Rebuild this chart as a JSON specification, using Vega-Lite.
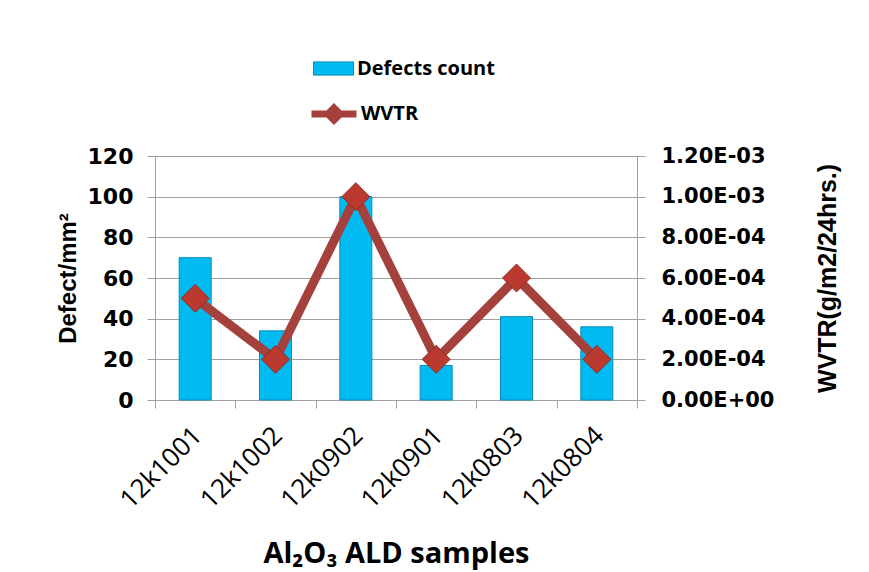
{
  "$schema": "https://vega.github.io/schema/vega-lite/v6.json",
  "width": 482,
  "height": 244,
  "autosize": {"type": "none"},
  "padding": {"left": 155, "top": 156, "right": 232, "bottom": 172},
  "background": "white",
  "config": {"view": {"stroke": null}},
  "data": {"values": [
    {"sample": "12k1001", "defects": 70, "wvtr": 0.0005},
    {"sample": "12k1002", "defects": 34, "wvtr": 0.0002},
    {"sample": "12k0902", "defects": 100, "wvtr": 0.001},
    {"sample": "12k0901", "defects": 17, "wvtr": 0.0002},
    {"sample": "12k0803", "defects": 41, "wvtr": 0.0006},
    {"sample": "12k0804", "defects": 36, "wvtr": 0.0002}
  ]},
  "encoding": {
    "x": {
      "field": "sample", "type": "nominal", "sort": null,
      "scale": {"paddingInner": 0, "paddingOuter": 0},
      "axis": {
        "title": "Al₂O₃ ALD samples",
        "titleFont": "Open Sans", "titleFontWeight": "bold", "titleFontSize": 29, "titleColor": "black",
        "titleBaseline": "alphabetic", "titleY": 162,
        "labelAngle": -45, "labelFont": "Open Sans", "labelFontSize": 26, "labelColor": "black",
        "labelPadding": 14, "labelOffset": -7,
        "tickBand": "extent", "tickSize": 8, "tickColor": "#A0A0A0", "domainColor": "#A0A0A0"
      }
    }
  },
  "layer": [
    {
      "mark": {"type": "bar", "width": 32, "stroke": "#0A8DB8", "strokeWidth": 1},
      "encoding": {
        "y": {
          "field": "defects", "type": "quantitative",
          "scale": {"domain": [0, 120]},
          "axis": {
            "title": "Defect/mm²", "values": [0, 20, 40, 60, 80, 100, 120],
            "titleFont": "Liberation Sans", "titleFontWeight": "bold", "titleFontSize": 24, "titleColor": "black",
            "titleX": -75, "titleBaseline": "bottom",
            "labelFont": "DejaVu Sans", "labelFontWeight": "bold", "labelFontSize": 22, "labelColor": "black",
            "labelPadding": 14, "tickSize": 8, "tickColor": "#A0A0A0", "domainColor": "#A0A0A0",
            "grid": true, "gridColor": "#A0A0A0"
          }
        },
        "fill": {
          "datum": "Defects count",
          "scale": {"range": ["#00BAF2"]},
          "legend": {
            "title": null, "orient": "none", "legendX": 158, "legendY": -108,
            "symbolType": "M-1,-0.33H1V0.33H-1Z", "symbolSize": 1600,
            "symbolStrokeColor": "#0A8DB8", "symbolStrokeWidth": 1,
            "labelFont": "Open Sans", "labelFontWeight": "bold", "labelFontSize": 20, "labelColor": "black",
            "labelOffset": 3
          }
        }
      }
    },
    {
      "encoding": {
        "y": {
          "field": "wvtr", "type": "quantitative",
          "scale": {"domain": [0, 0.0012]},
          "axis": {
            "orient": "right", "title": "WVTR(g/m2/24hrs.)",
            "values": [0, 0.0002, 0.0004, 0.0006, 0.0008, 0.001, 0.0012],
            "labelExpr": "replace(replace(upper(format(datum.value, '.2e')), 'E-', 'E-0'), 'E+', 'E+0')",
            "titleFont": "Liberation Sans", "titleFontWeight": "bold", "titleFontSize": 25, "titleColor": "black",
            "titleAngle": 270, "titleX": 203, "titleBaseline": "bottom",
            "labelFont": "DejaVu Sans", "labelFontWeight": "bold", "labelFontSize": 21, "labelColor": "black",
            "labelPadding": 16, "tickSize": 8, "tickColor": "#A0A0A0", "domainColor": "#A0A0A0",
            "grid": false
          }
        }
      },
      "layer": [
        {
          "mark": {"type": "line", "strokeWidth": 9, "strokeJoin": "miter"},
          "encoding": {
            "stroke": {
              "datum": "WVTR",
              "scale": {"range": ["#A5413C"]},
              "legend": {
                "title": null, "orient": "none", "legendX": 153, "legendY": -68,
                "symbolType": "M-1,0H1M0,-0.27L0.27,0L0,0.27L-0.27,0Z", "symbolSize": 2025,
                "symbolStrokeWidth": 7,
                "labelFont": "Open Sans", "labelFontWeight": "bold", "labelFontSize": 20, "labelColor": "black",
                "labelOffset": 1,
                "encode": {"symbols": {"update": {"fill": {"value": "#BB3A30"}}}}
              }
            }
          }
        },
        {
          "mark": {"type": "point", "shape": "diamond", "filled": true, "size": 780, "fill": "#BB3A30", "stroke": "#8E2A24", "strokeWidth": 1, "opacity": 1}
        }
      ]
    }
  ],
  "resolve": {"scale": {"y": "independent"}}
}
